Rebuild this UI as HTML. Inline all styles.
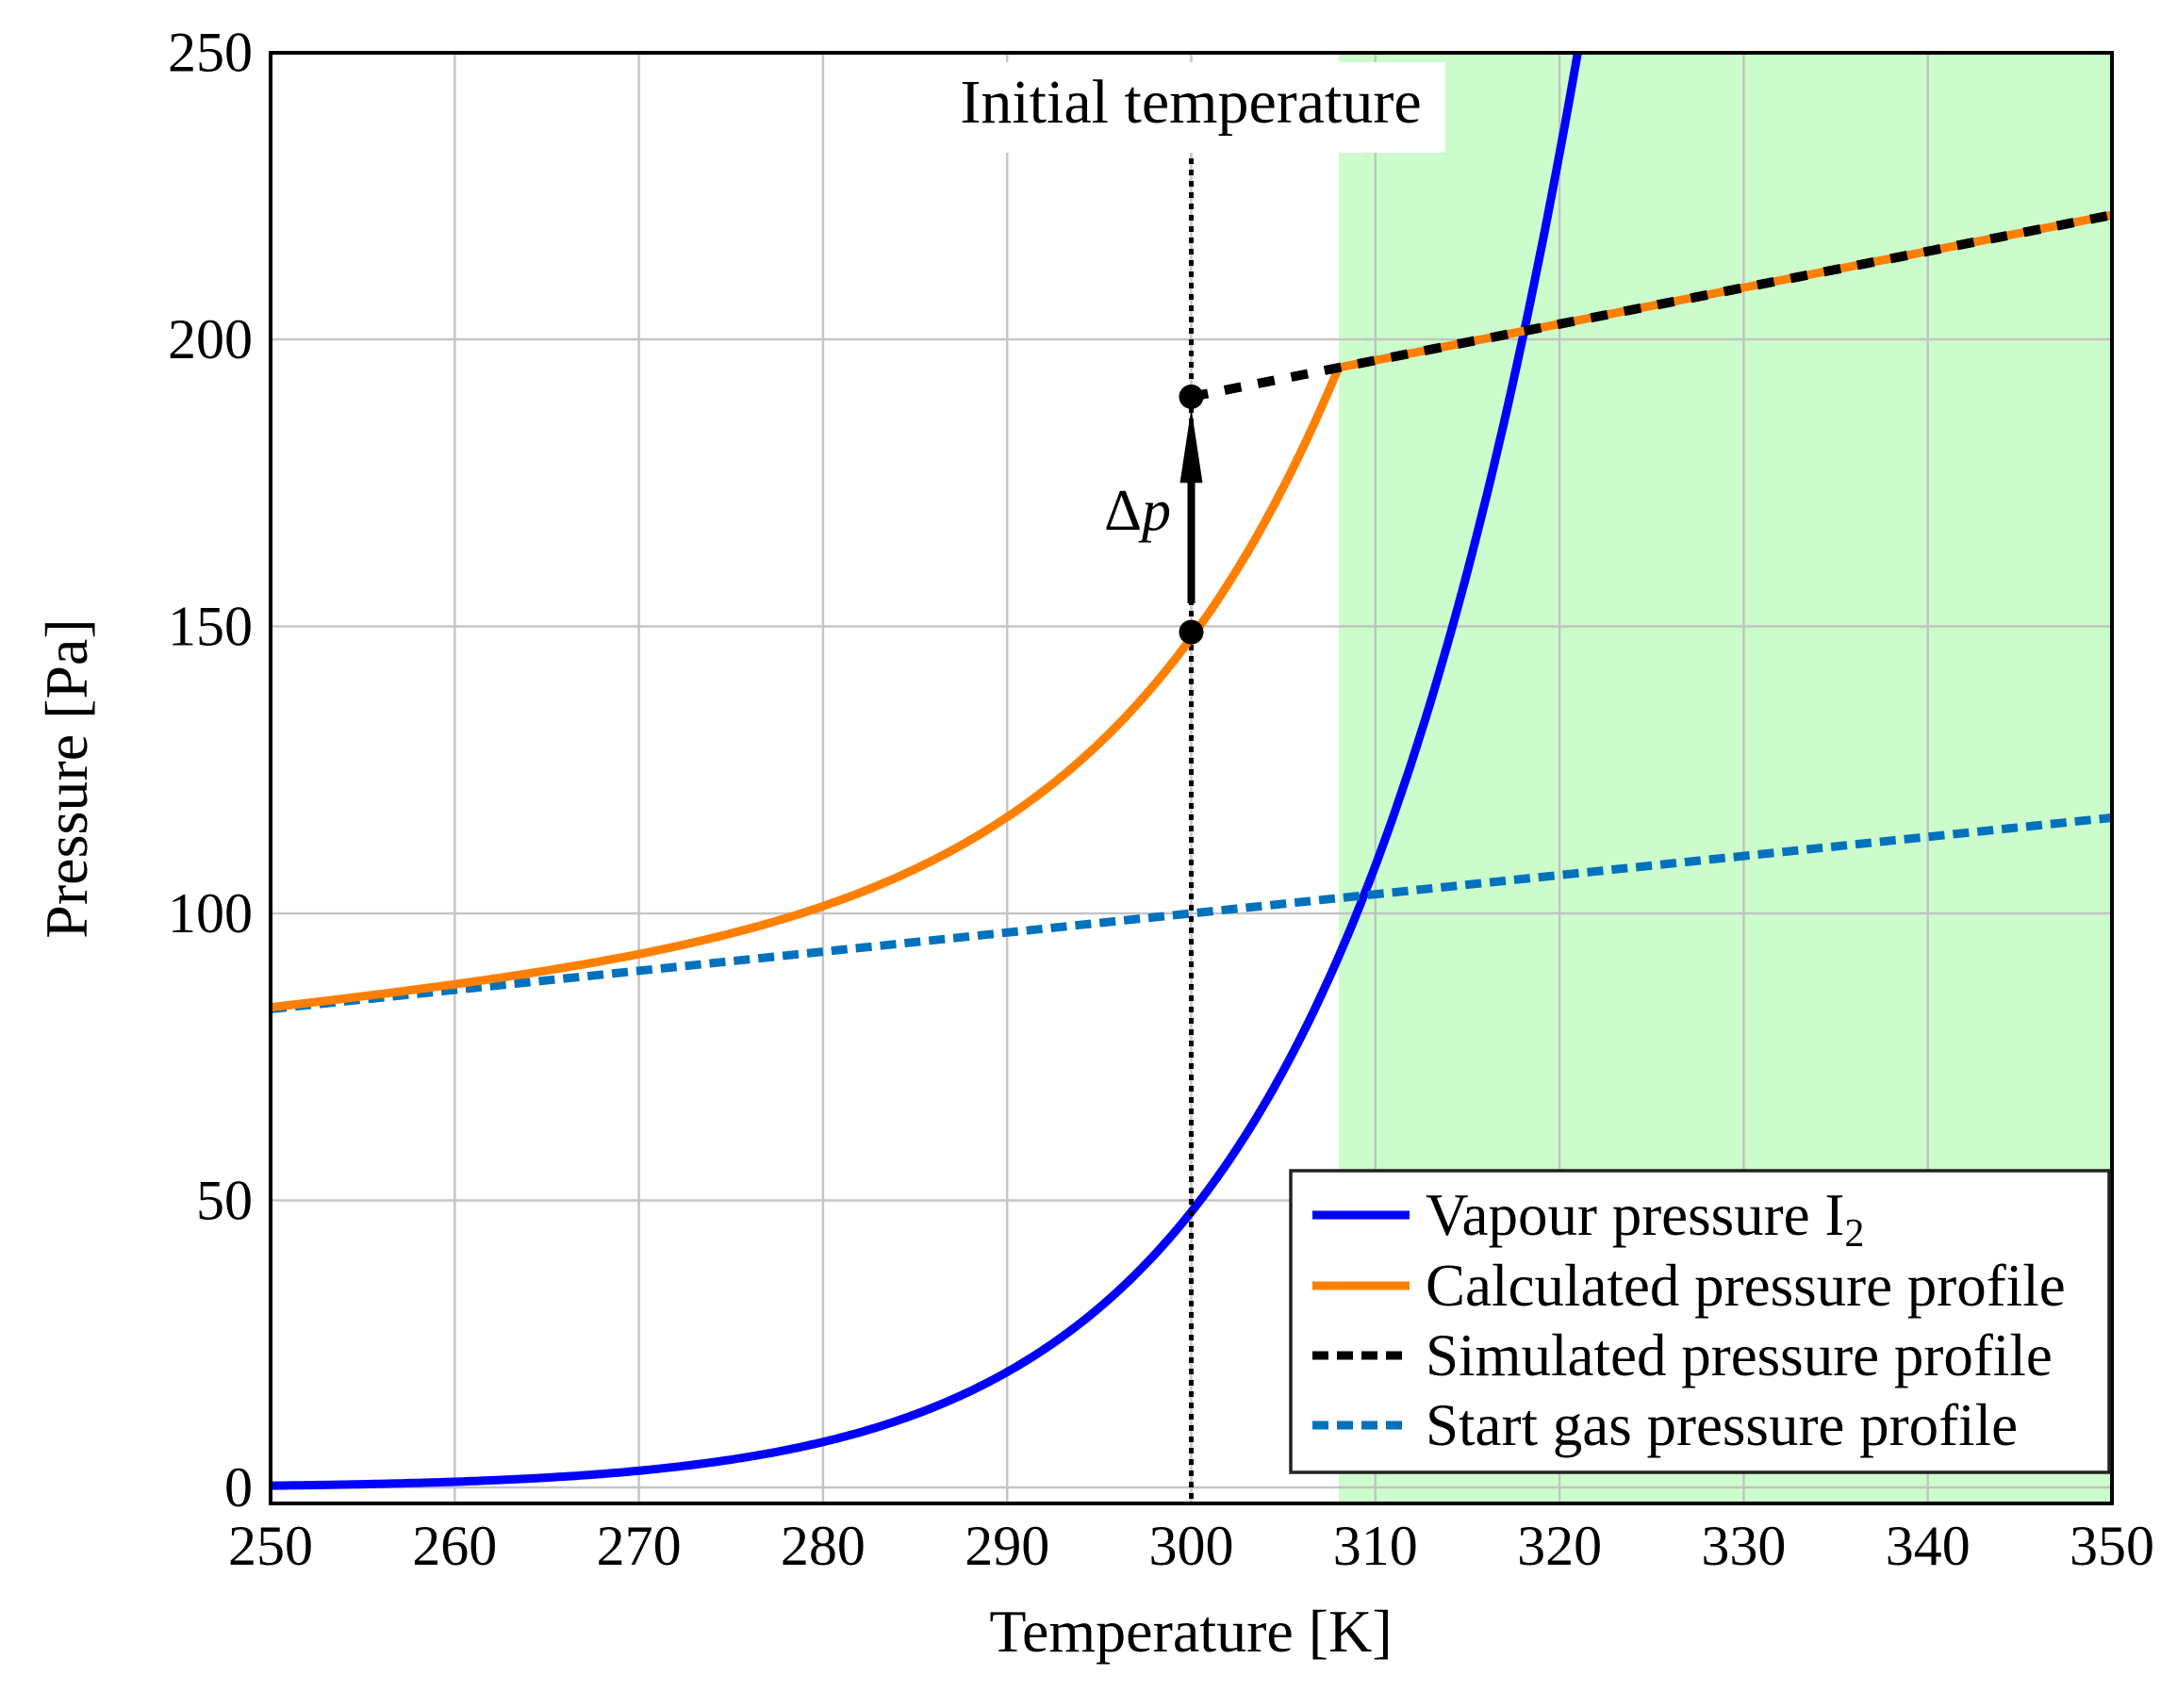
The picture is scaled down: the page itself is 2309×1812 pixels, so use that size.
<!DOCTYPE html>
<html><head><meta charset="utf-8"><style>
html,body{margin:0;padding:0;background:#fff}
svg text{font-family:"Liberation Serif",serif;fill:#000}
</style></head><body>
<svg id="s" width="2309" height="1807" viewBox="0 0 2309 1807" xmlns="http://www.w3.org/2000/svg">
<rect width="2309" height="1807" fill="#fff"/>
<rect x="1420" y="56" width="821" height="1539" fill="#ccfccc"/>
<g id="grid" stroke="#bfbfbf" stroke-width="2.5" opacity="0.9"></g>
<g id="curves" fill="none"></g>
<rect x="1013" y="66" width="520" height="96" fill="#fff"/>
<text x="1263" y="130" font-size="66" text-anchor="middle">Initial temperature</text>
<text x="1242" y="562" font-size="62" text-anchor="end">Δ<tspan font-style="italic">p</tspan></text>
<rect x="287" y="56" width="1953" height="1539" fill="none" stroke="#000" stroke-width="4"/>
<g id="ticks" font-size="60"></g>
<text x="1263" y="1752" font-size="64" text-anchor="middle">Temperature [K]</text>
<text transform="translate(92,826) rotate(-90)" font-size="64" text-anchor="middle">Pressure [Pa]</text>
<rect x="1369" y="1242" width="868" height="320" fill="#fff" stroke="#222" stroke-width="3.5"/>
<line x1="1392" y1="1289" x2="1495" y2="1289" stroke="#0000ff" stroke-width="9"/>
<line x1="1392" y1="1364" x2="1495" y2="1364" stroke="#ff7f00" stroke-width="9"/>
<line x1="1392" y1="1438" x2="1495" y2="1438" stroke="#000" stroke-width="9" stroke-dasharray="17,9"/>
<line x1="1392" y1="1512" x2="1495" y2="1512" stroke="#0072bd" stroke-width="9" stroke-dasharray="17,9"/>
<g font-size="63">
<text x="1512" y="1310">Vapour pressure I<tspan font-size="42" dy="12">2</tspan></text>
<text x="1512" y="1385">Calculated pressure profile</text>
<text x="1512" y="1459">Simulated pressure profile</text>
<text x="1512" y="1533">Start gas pressure profile</text>
</g>
</svg>
<script>
const X=t=>287+(t-250)*19.53, Y=p=>1578-p*6.09;
const ns="http://www.w3.org/2000/svg";
function el(par,tag,a){const e=document.createElementNS(ns,tag);for(const k in a)e.setAttribute(k,a[k]);document.getElementById(par).appendChild(e);return e;}
for(let t=260;t<350;t+=10)el("grid","line",{x1:X(t),y1:56,x2:X(t),y2:1595});
for(let p=0;p<250;p+=50)el("grid","line",{x1:287,y1:Y(p),x2:2240,y2:Y(p)});
for(let t=250;t<=350;t+=10){const e=el("ticks","text",{x:X(t),y:1660,"text-anchor":"middle"});e.textContent=t;}
for(let p=0;p<=250;p+=50){const e=el("ticks","text",{x:268,y:Y(p)+20,"text-anchor":"end"});e.textContent=p;}
const vp=t=>48*Math.exp(7570*(1/300-1/t));
const sg=t=>100*t/300, sim=t=>190*t/300;
function path(f,a,b,n){let d="";for(let i=0;i<=n;i++){const t=a+(b-a)*i/n;const p=f(t);d+=(i?"L":"M")+X(t).toFixed(1)+","+Y(p).toFixed(1);}return d;}
let tEnd=300;while(vp(tEnd)<250)tEnd+=0.01;
el("curves","path",{d:path(vp,250,tEnd,300),stroke:"#0000ff","stroke-width":9});
el("curves","line",{x1:X(300),y1:168,x2:X(300),y2:1595,stroke:"#000","stroke-width":5,"stroke-dasharray":"6,6"});
el("curves","path",{d:path(sg,250,350,10),stroke:"#0072bd","stroke-width":9,"stroke-dasharray":"17,9"});
const tc=308;
const k=(sim(tc)-sg(tc))/vp(tc)-1;
const orf=t=>sg(t)+vp(t)*(1+(t>300?k*(t-300)/(tc-300):0));
el("curves","path",{d:path(orf,250,tc,200)+path(sim,tc,350,10).replace("M","L"),stroke:"#ff7f00","stroke-width":9});
el("curves","path",{d:path(sim,300,350,10),stroke:"#000","stroke-width":10,"stroke-dasharray":"18,18"});
el("curves","line",{x1:X(300),y1:Y(154),x2:X(300),y2:Y(178),stroke:"#000","stroke-width":8});
el("curves","path",{d:`M${X(300)},${Y(188)} L${X(300)-12},${Y(175)} L${X(300)+12},${Y(175)} Z`,fill:"#000"});
el("curves","circle",{cx:X(300),cy:Y(149),r:13,fill:"#000"});
el("curves","circle",{cx:X(300),cy:Y(190),r:13,fill:"#000"});
</script>
</body></html>
